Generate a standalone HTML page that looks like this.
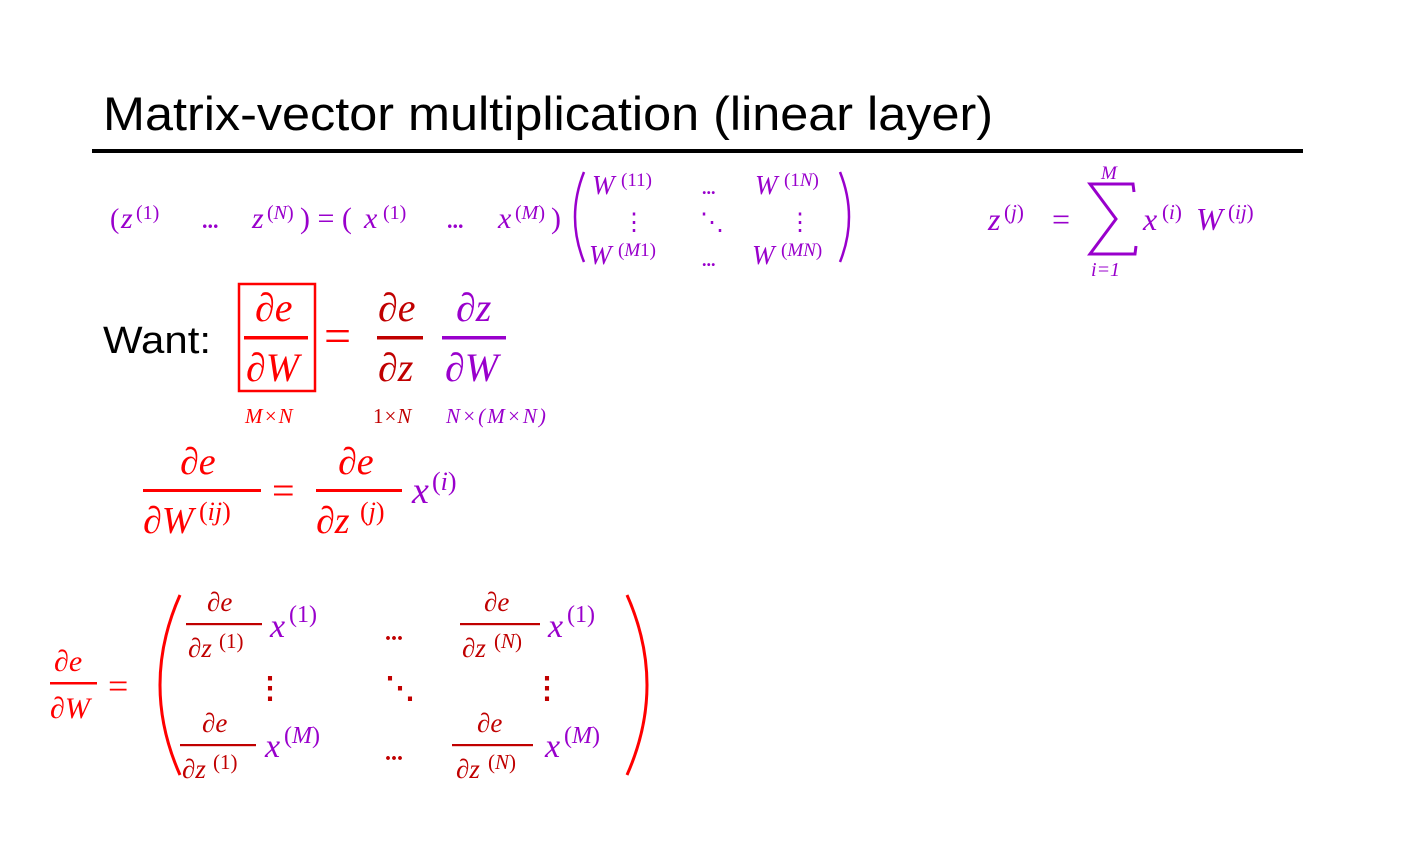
<!DOCTYPE html>
<html><head><meta charset="utf-8"><style>
html,body{margin:0;padding:0;background:#fff;}
svg{display:block}
.m{font-family:"Liberation Serif",serif;font-style:italic}
.u{font-family:"Liberation Serif",serif}
.P{fill:#9900cc}.R{fill:#ff0000}.D{fill:#c00000}
</style></head><body>
<svg width="1409" height="858" viewBox="0 0 1409 858" xmlns="http://www.w3.org/2000/svg">
<text x="103" y="130" font-family="Liberation Sans,sans-serif" font-size="47" textLength="890" lengthAdjust="spacingAndGlyphs">Matrix-vector multiplication (linear layer)</text>
<rect x="92" y="149" width="1211" height="4" fill="#000"/>

<!-- row 1 -->
<g class="P">
<text x="110" y="228" font-size="28" class="u">(</text>
<text x="121" y="228" font-size="30" class="m">z</text>
<text x="136" y="219" font-size="20" class="u">(1)</text>
<text x="202" y="228" font-size="22" class="u" font-weight="bold">...</text>
<text x="252" y="228" font-size="30" class="m">z</text>
<text x="267" y="219" font-size="20" class="u">(<tspan class="m">N</tspan>)</text>
<text x="300" y="228" font-size="30" class="u">) = (</text>
<text x="364" y="228" font-size="30" class="m">x</text>
<text x="383" y="219" font-size="20" class="u">(1)</text>
<text x="447" y="228" font-size="22" class="u" font-weight="bold">...</text>
<text x="498" y="228" font-size="30" class="m">x</text>
<text x="515" y="219" font-size="20" class="u">(<tspan class="m">M</tspan>)</text>
<text x="551" y="228" font-size="30" class="u">)</text>
</g>
<g fill="none" stroke="#9900cc" stroke-width="2.5">
<path d="M584 172 Q566 217 584 262"/><path d="M840 172 Q858 217 840 262"/>
</g>
<g class="P">
<text x="592" y="194" font-size="27" class="m">W</text><text x="621" y="186" font-size="19" class="u">(11)</text>
<text x="702" y="194" font-size="18" class="u" font-weight="bold">...</text>
<text x="755" y="194" font-size="27" class="m">W</text><text x="784" y="186" font-size="19" class="u">(1<tspan class="m">N</tspan>)</text>
<text x="622" y="230" font-size="24" class="u">⋮</text>
<text x="700" y="230" font-size="24" class="u">⋱</text>
<text x="788" y="230" font-size="24" class="u">⋮</text>
<text x="589" y="264" font-size="27" class="m">W</text><text x="618" y="256" font-size="19" class="u">(<tspan class="m">M</tspan>1)</text>
<text x="702" y="266" font-size="18" class="u" font-weight="bold">...</text>
<text x="752" y="264" font-size="27" class="m">W</text><text x="781" y="256" font-size="19" class="u">(<tspan class="m">MN</tspan>)</text>

<text x="988" y="230" font-size="32" class="m">z</text><text x="1004" y="219" font-size="21" class="u">(<tspan class="m">j</tspan>)</text>
<text x="1052" y="230" font-size="32" class="u">=</text>
<text x="1101" y="179" font-size="19" class="m">M</text>
<text x="1091" y="276" font-size="20" class="m">i<tspan class="u">=1</tspan></text>
<text x="1143" y="230" font-size="32" class="m">x</text><text x="1162" y="219" font-size="21" class="u">(<tspan class="m">i</tspan>)</text>
<text x="1196" y="230" font-size="32" class="m">W</text><text x="1228" y="219" font-size="21" class="u">(<tspan class="m">ij</tspan>)</text>
</g>
<path d="M1134 192 L1133 184 L1090 184 L1116 219 L1090 254 L1135 254 L1136 246" fill="none" stroke="#9900cc" stroke-width="3" stroke-linejoin="miter"/>

<!-- Want -->
<text x="103" y="353" font-family="Liberation Sans,sans-serif" font-size="38" textLength="108" lengthAdjust="spacingAndGlyphs">Want:</text>
<rect x="239" y="284" width="76" height="107" fill="none" stroke="#ff0000" stroke-width="2.5"/>
<g class="R">
<text x="255" y="321" font-size="40" class="m">∂e</text>
<rect x="244" y="336" width="64" height="3.5"/>
<text x="246" y="381" font-size="40" class="m">∂W</text>
<text x="324" y="352" font-size="48" class="u">=</text>
<text x="245" y="423" font-size="21" class="m" letter-spacing="1">M<tspan class="u">×</tspan>N</text>
</g>
<g class="D">
<text x="378" y="321" font-size="40" class="m">∂e</text>
<rect x="377" y="336" width="46" height="3.5"/>
<text x="378" y="381" font-size="40" class="m">∂z</text>
<text x="373" y="423" font-size="21" class="u" letter-spacing="1">1×<tspan class="m">N</tspan></text>
</g>
<g class="P">
<text x="456" y="321" font-size="40" class="m">∂z</text>
<rect x="442" y="336" width="64" height="3.5"/>
<text x="445" y="381" font-size="40" class="m">∂W</text>
<text x="446" y="423" font-size="21" class="m" letter-spacing="2">N<tspan class="u">×(</tspan>M<tspan class="u">×</tspan>N<tspan class="u">)</tspan></text>
</g>

<!-- second eq -->
<g class="R">
<text x="180" y="474" font-size="38" class="m">∂e</text>
<rect x="143" y="489" width="118" height="3"/>
<text x="143" y="533" font-size="38" class="m">∂W</text>
<text x="199" y="520" font-size="26" class="u">(<tspan class="m">ij</tspan>)</text>
<text x="272" y="504" font-size="40" class="u">=</text>
<text x="338" y="474" font-size="38" class="m">∂e</text>
<rect x="316" y="489" width="86" height="3"/>
<text x="316" y="533" font-size="38" class="m">∂z</text>
<text x="360" y="520" font-size="26" class="u">(<tspan class="m">j</tspan>)</text>
</g>
<g class="P"><text x="412" y="503" font-size="38" class="m">x</text><text x="432" y="490" font-size="26" class="u">(<tspan class="m">i</tspan>)</text></g>

<!-- bottom matrix -->
<g class="R">
<text x="54" y="671" font-size="30" class="m">∂e</text>
<rect x="50" y="682" width="47" height="2.5"/>
<text x="50" y="718" font-size="30" class="m">∂W</text>
<text x="108" y="698" font-size="36" class="u">=</text>
</g>
<g fill="none" stroke="#ff0000" stroke-width="3">
<path d="M180 595 Q140 685 180 775"/><path d="M627 595 Q667 685 627 775"/>
</g>
<g class="D">
<text x="207" y="611" font-size="27" class="m">∂e</text>
<rect x="186" y="623" width="76" height="2.2"/>
<text x="188" y="657" font-size="27" class="m">∂z</text><text x="219" y="648" font-size="21" class="u">(1)</text>
<text x="385" y="640" font-size="24" class="u" font-weight="bold">...</text>
<text x="484" y="611" font-size="27" class="m">∂e</text>
<rect x="460" y="623" width="80" height="2.2"/>
<text x="462" y="657" font-size="27" class="m">∂z</text><text x="494" y="648" font-size="21" class="u">(<tspan class="m">N</tspan>)</text>
<text x="255" y="698" font-size="30" class="u" font-weight="bold">⋮</text>
<text x="385" y="698" font-size="30" class="u" font-weight="bold">⋱</text>
<text x="532" y="698" font-size="30" class="u" font-weight="bold">⋮</text>
<text x="202" y="732" font-size="27" class="m">∂e</text>
<rect x="180" y="744" width="76" height="2.2"/>
<text x="182" y="778" font-size="27" class="m">∂z</text><text x="213" y="769" font-size="21" class="u">(1)</text>
<text x="385" y="760" font-size="24" class="u" font-weight="bold">...</text>
<text x="477" y="732" font-size="27" class="m">∂e</text>
<rect x="452" y="744" width="81" height="2.2"/>
<text x="456" y="778" font-size="27" class="m">∂z</text><text x="488" y="769" font-size="21" class="u">(<tspan class="m">N</tspan>)</text>
</g>
<g class="P">
<text x="270" y="637" font-size="34" class="m">x</text><text x="289" y="622" font-size="24" class="u">(1)</text>
<text x="548" y="637" font-size="34" class="m">x</text><text x="567" y="622" font-size="24" class="u">(1)</text>
<text x="265" y="757" font-size="34" class="m">x</text><text x="284" y="743" font-size="24" class="u">(<tspan class="m">M</tspan>)</text>
<text x="545" y="757" font-size="34" class="m">x</text><text x="564" y="743" font-size="24" class="u">(<tspan class="m">M</tspan>)</text>
</g>
</svg>
</body></html>
